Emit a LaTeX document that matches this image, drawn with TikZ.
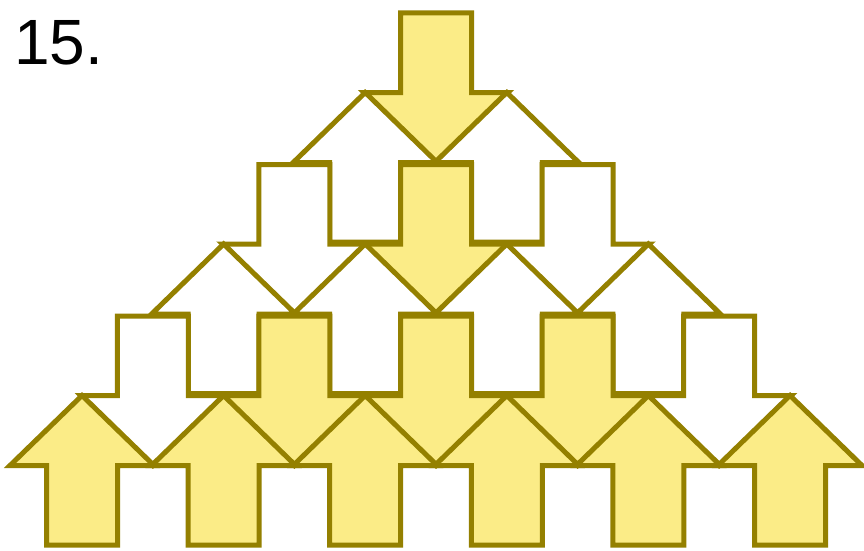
\documentclass[tikz,border=0pt]{standalone}
\usepackage{fontspec}
\setmainfont{Liberation Sans}
\definecolor{arrowfill}{RGB}{251,236,135}
\definecolor{arrowline}{RGB}{148,128,0}
\def\arHW{72}   % head half-width
\def\arHH{70}   % head height
\def\arL{79.5}  % shaft length
\def\arSW{35.5} % shaft half-width
% up arrow: tip at (#1,#2)
\newcommand\UpArrow[3]{\filldraw[#3] (#1,#2) -- ++(\arHW,\arHH) -- ++({-\arHW+\arSW},0) -- ++(0,\arL) -- ++({-2*\arSW},0) -- ++(0,-\arL) -- ++({-\arHW+\arSW},0) -- cycle;}
% down arrow: shaft top centre at (#1,#2)
\newcommand\DownArrow[3]{\filldraw[#3] ({#1-\arSW},#2) -- ++({2*\arSW},0) -- ++(0,\arL) -- ++({\arHW-\arSW},0) -- ++(-\arHW,\arHH) -- ++(-\arHW,-\arHH) -- ++({\arHW-\arSW},0) -- cycle;}
\begin{document}
\begin{tikzpicture}[x=1pt,y=-1pt,
  yarrow/.style={fill=arrowfill,draw=arrowline,line width=5pt,line join=miter},
  warrow/.style={fill=white,draw=arrowline,line width=5pt,line join=miter}]
\useasboundingbox[fill=white] (0,0) rectangle (864,551);
\node[anchor=base west,inner sep=0pt,font=\fontsize{64}{64}\selectfont] (num) at (14,65) {15.};
% row of down arrows, k=0
\DownArrow{436}{13}{yarrow}
% up arrows, tips at 92.5
\UpArrow{365.2}{92.5}{warrow}
\UpArrow{506.8}{92.5}{warrow}
% down arrows, k=1
\DownArrow{294.4}{164.5}{warrow}
\DownArrow{577.6}{164.5}{warrow}
\DownArrow{436}{164.5}{yarrow}
% up arrows, tips at 244
\UpArrow{223.6}{244}{warrow}
\UpArrow{365.2}{244}{warrow}
\UpArrow{506.8}{244}{warrow}
\UpArrow{648.4}{244}{warrow}
% down arrows, k=2
\DownArrow{152.8}{316}{warrow}
\DownArrow{719.2}{316}{warrow}
\DownArrow{294.4}{316}{yarrow}
\DownArrow{436}{316}{yarrow}
\DownArrow{577.6}{316}{yarrow}
% up arrows, tips at 395.5
\UpArrow{82}{395.5}{yarrow}
\UpArrow{223.6}{395.5}{yarrow}
\UpArrow{365.2}{395.5}{yarrow}
\UpArrow{506.8}{395.5}{yarrow}
\UpArrow{648.4}{395.5}{yarrow}
\UpArrow{790}{395.5}{yarrow}
\end{tikzpicture}
\end{document}
